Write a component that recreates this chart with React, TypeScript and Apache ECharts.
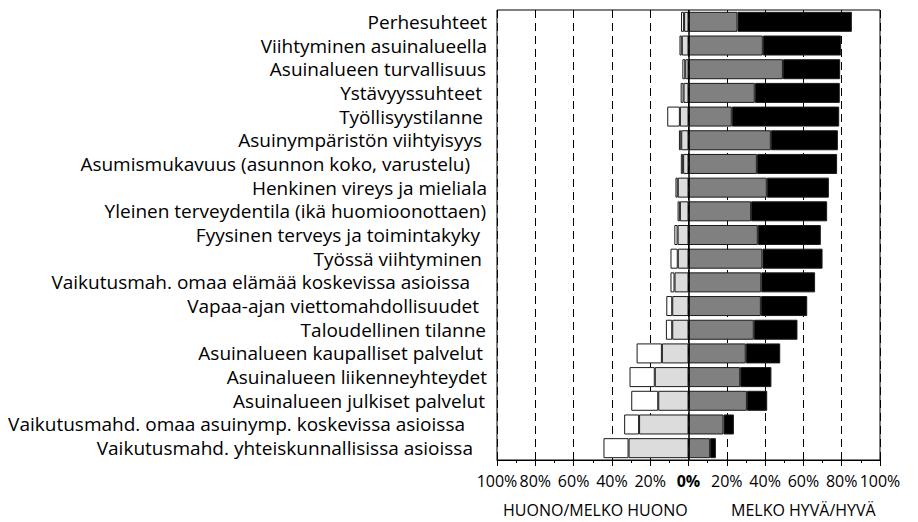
import React, { useEffect, useRef } from "react";
import * as echarts from "echarts";

const categories = [
  "Perhesuhteet",
  "Viihtyminen asuinalueella",
  "Asuinalueen turvallisuus",
  "Ystävyyssuhteet",
  "Työllisyystilanne",
  "Asuinympäristön viihtyisyys",
  "Asumismukavuus (asunnon koko, varustelu)",
  "Henkinen vireys ja mieliala",
  "Yleinen terveydentila (ikä huomioonottaen)",
  "Fyysinen terveys ja toimintakyky",
  "Työssä viihtyminen",
  "Vaikutusmah. omaa elämää koskevissa asioissa",
  "Vapaa-ajan viettomahdollisuudet",
  "Taloudellinen tilanne",
  "Asuinalueen kaupalliset palvelut",
  "Asuinalueen liikenneyhteydet",
  "Asuinalueen julkiset palvelut",
  "Vaikutusmahd. omaa asuinymp. koskevissa asioissa",
  "Vaikutusmahd. yhteiskunnallisissa asioissa",
];

// percentages
const huono = [1.6, 1.2, 1.5, 1.5, 6.6, 1.2, 1.2, 1.2, 1.2, 1.7, 3.8, 2.1, 3.1, 3.3, 13.2, 13.2, 14.1, 7.8, 13.1];
const melkoHuono = [2.3, 3.5, 1.7, 2.6, 4.5, 3.8, 2.8, 5.6, 4.5, 5.7, 5.6, 7.3, 8.5, 8.5, 13.9, 17.6, 15.8, 25.8, 31.3];
const melkoHyva = [25.6, 38.8, 49.3, 34.6, 22.6, 43.0, 35.7, 40.9, 32.7, 36.2, 38.6, 38.0, 37.8, 34.1, 29.9, 27.0, 30.5, 18.3, 11.3];
const hyva = [59.7, 40.9, 29.9, 44.4, 56.1, 35.0, 41.9, 32.4, 39.7, 32.9, 31.4, 28.1, 24.2, 22.8, 18.0, 16.3, 10.6, 5.4, 3.0];

const tickMin = -100;
const tickMax = 100;
const tickStep = 20;

const leftTitle = "HUONO/MELKO HUONO";
const rightTitle = "MELKO HYVÄ/HYVÄ";

// style: extra right padding of each category label (trailing space in the original)
const labelRightPad = [0, 0, 1, 5, 4, 5, 17, 0, 1, 7, 5, 17, 8, 1, 4, 0, 2, 22, 14];

const FONT = "'Open Sans', 'Noto Sans', sans-serif";

export default function App() {
  const ref = useRef<HTMLDivElement>(null);
  useEffect(() => {
    document.body.style.margin = "0";
    if (!ref.current) return;
    const chart = echarts.init(ref.current, undefined, { renderer: "svg" });
    const border = { borderColor: "#1a1a1a", borderWidth: 1 };
    const barW = 20;
    const rich: Record<string, any> = {};
    labelRightPad.forEach((p, i) => {
      rich["p" + i] = {
        fontSize: 19,
        fontFamily: FONT,
        color: "#000",
        padding: [0, p, 0, 0],
      };
    });
    chart.setOption({
      animation: false,
      backgroundColor: "#fff",
      textStyle: { fontFamily: FONT },
      grid: {
        left: 497,
        right: 38,
        top: 10,
        bottom: 62,
        show: true,
        borderColor: "#000",
        borderWidth: 1,
        backgroundColor: "transparent",
      },
      xAxis: {
        type: "value",
        min: tickMin,
        max: tickMax,
        interval: tickStep,
        axisLine: { show: true, lineStyle: { color: "#000", width: 1 } },
        axisTick: { show: true, length: 6, lineStyle: { color: "#000" } },
        minorTick: { show: true, splitNumber: 2, length: 3, lineStyle: { color: "#000" } },
        splitLine: {
          show: true,
          lineStyle: { color: "#000", width: 1, type: [8, 5] },
        },
        axisLabel: {
          color: "#000",
          fontSize: 16,
          fontFamily: FONT,
          margin: 13,
          formatter: (v: number) => (v === 0 ? "{b|0%}" : Math.abs(v) + "%"),
          rich: { b: { fontWeight: "bold", fontSize: 16, color: "#000", fontFamily: FONT } },
        },
      },
      yAxis: {
        type: "category",
        data: categories,
        inverse: true,
        axisLine: { show: false },
        axisTick: { show: false },
        splitLine: { show: false },
        axisLabel: {
          color: "#000",
          fontSize: 19,
          fontFamily: FONT,
          margin: 10,
          interval: 0,
          formatter: (v: string, i: number) => "{p" + i + "|" + v + "}",
          rich,
        },
      },
      graphic: [
        {
          type: "text",
          left: 503,
          top: 502,
          style: { text: leftTitle, fill: "#000", fontSize: 16, fontFamily: FONT },
        },
        {
          type: "text",
          left: 731,
          top: 502,
          style: { text: rightTitle, fill: "#000", fontSize: 16, fontFamily: FONT },
        },
      ],
      series: [
        {
          name: "Melko huono",
          type: "bar",
          stack: "total",
          barWidth: barW,
          data: melkoHuono.map((v) => -v),
          itemStyle: { color: "#dcdcdc", ...border },
        },
        {
          name: "Huono",
          type: "bar",
          stack: "total",
          barWidth: barW,
          data: huono.map((v) => -v),
          itemStyle: { color: "#ffffff", ...border },
        },
        {
          name: "Melko hyvä",
          type: "bar",
          stack: "total",
          barWidth: barW,
          data: melkoHyva,
          itemStyle: { color: "#808080", ...border },
        },
        {
          name: "Hyvä",
          type: "bar",
          stack: "total",
          barWidth: barW,
          data: hyva,
          itemStyle: { color: "#000000", ...border },
          markLine: {
            silent: true,
            symbol: ["none", "none"],
            label: { show: false },
            lineStyle: { color: "#000", width: 1.5, type: "solid" },
            data: [{ xAxis: 0 }],
          },
        },
      ],
    });
    return () => chart.dispose();
  }, []);
  return <div ref={ref} style={{ width: 918, height: 522 }} />;
}
